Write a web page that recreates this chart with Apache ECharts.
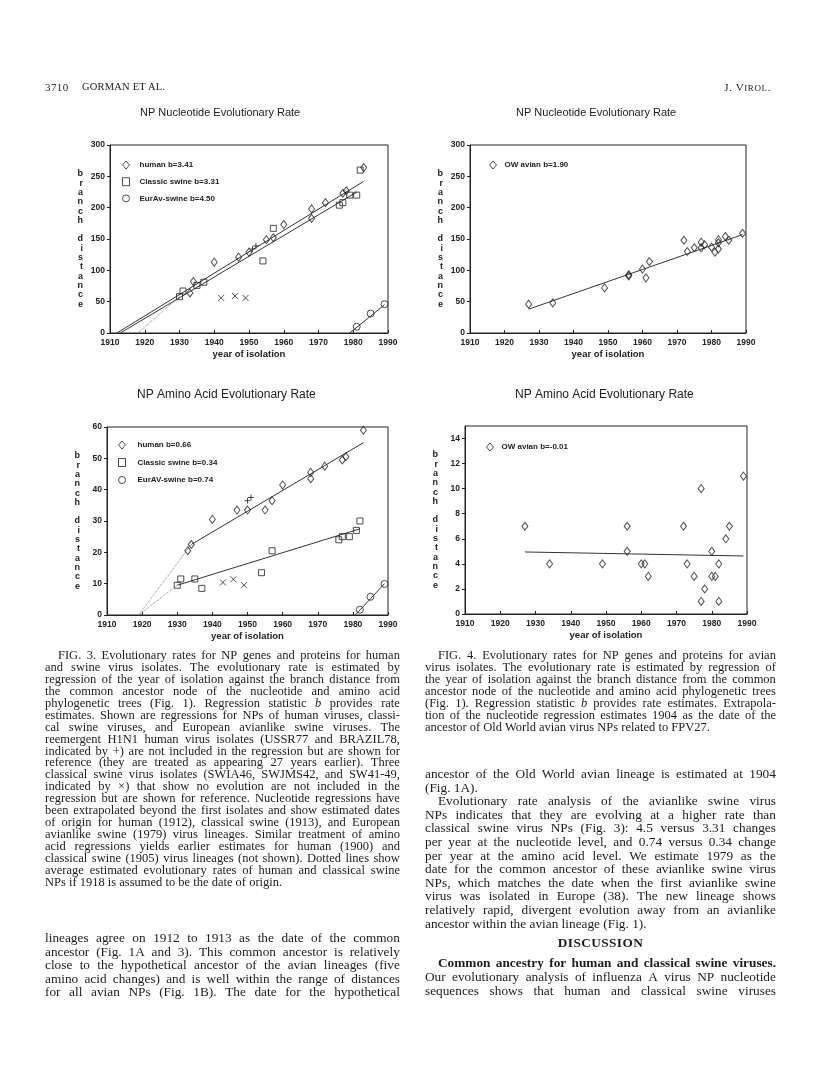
<!DOCTYPE html>
<html><head><meta charset="utf-8">
<script src="https://cdn.jsdelivr.net/npm/echarts@6/dist/echarts.min.js"></script>
<style>
body{margin:0;background:#fff;}
#page{position:relative;width:816px;height:1077px;overflow:hidden;background:#fff;}
#chart{position:absolute;left:0;top:0;width:816px;height:1077px;}
.blk{position:absolute;font-family:"Liberation Serif","Times New Roman",serif;color:#1c1c1c;}
.ln{white-space:nowrap;}
.jl{display:flex;justify-content:space-between;}
.ind{padding-left:13px;}
.cap{font-size:12.5px;}
.cap .ln{height:11.95px;line-height:11.95px;}
.bod{font-size:13.3px;}
.bod .ln{height:13.6px;line-height:13.6px;}
.bd{font-weight:bold;}
.ctr{text-align:center;}
</style></head>
<body><div id="page">
<div id="chart"></div>
<div class="blk" style="left:45px;top:81px;font-size:11px;letter-spacing:0.4px;">3710</div>
<div class="blk" style="left:82px;top:81px;font-size:10.5px;letter-spacing:0.2px;">GORMAN ET AL.</div>
<div class="blk" style="left:700px;width:71px;text-align:right;top:81px;font-size:11px;letter-spacing:0.6px;">J. V<span style="font-size:9px">IROL</span>.</div>
<div class="blk cap" id="fig3" style="left:45px;top:650px;width:355px;"></div>
<div class="blk cap" id="fig4" style="left:425px;top:650px;width:351px;"></div>
<div class="blk bod" id="bodyL" style="left:45px;top:931px;width:355px;"></div>
<div class="blk bod" id="bodyR" style="left:425px;top:767px;width:351px;"></div>
</div>
<script>
// ---------- data: NP nucleotide (Fig. 3, top left) ----------
const ntHuman = [[1933,64],[1934,82],[1940,113],[1947,121],[1950,129],[1955,149],[1957,152],[1960,173],[1968,183],[1968,198],[1972,208],[1977,223],[1978,227],[1983,264]];
const ntClassic = [[1930,58],[1931,67],[1935,76],[1937,81],[1954,115],[1957,167],[1976,204],[1977,208],[1979,220],[1981,220],[1982,260]];
const ntEurAv = [[1981,10],[1985,31],[1989,46]];
const ntReemergent = [[1951,134],[1952,139]];
const ntNoEvolution = [[1942,56],[1946,59],[1949,56]];
const ntHumanFit = [[1912,0],[1983,242]];
const ntClassicFit = [[1913,0],[1981,225]];
const ntEurAvFit = [[1979,0],[1989,45]];
const ntDotted = [[1918,0],[1930,58]];
// ---------- data: NP nucleotide (Fig. 4, top right) ----------
const ntAvian = [[1927,46],[1934,48],[1949,72],[1956,91],[1956,93],[1960,102],[1961,88],[1962,114],[1972,148],[1973,130],[1975,136],[1977,145],[1977,136],[1978,141],[1980,137],[1981,129],[1982,149],[1982,144],[1982,134],[1984,154],[1985,148],[1989,159]];
const ntAvianFit = [[1927,38],[1989,157]];
// ---------- data: NP amino acid (Fig. 3, bottom left) ----------
const aaHuman = [[1933,20.5],[1934,22.5],[1940,30.5],[1947,33.5],[1950,33.5],[1955,33.5],[1957,36.5],[1960,41.5],[1968,43.5],[1968,45.5],[1972,47.5],[1977,49.5],[1978,50.5],[1983,59]];
const aaClassic = [[1930,9.5],[1931,11.5],[1935,11.5],[1937,8.5],[1954,13.5],[1957,20.5],[1976,24],[1977,25],[1979,25],[1981,27],[1982,30]];
const aaEurAv = [[1982,1.7],[1985,5.8],[1989,9.9]];
const aaReemergent = [[1950,36.5],[1951,37.5]];
const aaNoEvolution = [[1943,10.4],[1946,11.4],[1949,9.5]];
const aaHumanFit = [[1934,22.5],[1983,55]];
const aaClassicFit = [[1930,9.5],[1982,27.5]];
const aaEurAvFit = [[1980.7,0],[1989,10]];
const aaHumanDotted = [[1919,0],[1934,22.5]];
const aaClassicDotted = [[1919,0],[1930,9.5]];
// ---------- data: NP amino acid (Fig. 4, bottom right) ----------
const aaAvian = [[1927,7],[1934,4],[1949,4],[1956,7],[1956,5],[1960,4],[1961,4],[1962,3],[1972,7],[1973,4],[1975,3],[1977,10],[1977,1],[1978,2],[1980,5],[1980,3],[1981,3],[1982,4],[1982,1],[1984,6],[1985,7],[1989,11]];
const aaAvianFit = [[1927,4.95],[1989,4.63]];

// ---------- texts ----------
const titles = ['NP Nucleotide Evolutionary Rate','NP Nucleotide Evolutionary Rate','NP Amino Acid Evolutionary Rate','NP Amino Acid Evolutionary Rate'];
const xName = 'year of isolation';
const yName = 'branch distance';
const fig3Lines = [
'>FIG. 3. Evolutionary rates for NP genes and proteins for human',
'and swine virus isolates. The evolutionary rate is estimated by',
'regression of the year of isolation against the branch distance from',
'the common ancestor node of the nucleotide and amino acid',
'phylogenetic trees (Fig. 1). Regression statistic *b* provides rate',
'estimates. Shown are regressions for NPs of human viruses, classi-',
'cal swine viruses, and European avianlike swine viruses. The',
'reemergent H1N1 human virus isolates (USSR77 and BRAZIL78,',
'indicated by +) are not included in the regression but are shown for',
'reference (they are treated as appearing 27 years earlier). Three',
'classical swine virus isolates (SWIA46, SWJMS42, and SW41-49,',
'indicated by ×) that show no evolution are not included in the',
'regression but are shown for reference. Nucleotide regressions have',
'been extrapolated beyond the first isolates and show estimated dates',
'of origin for human (1912), classical swine (1913), and European',
'avianlike swine (1979) virus lineages. Similar treatment of amino',
'acid regressions yields earlier estimates for human (1900) and',
'classical swine (1905) virus lineages (not shown). Dotted lines show',
'average estimated evolutionary rates of human and classical swine',
'|NPs if 1918 is assumed to be the date of origin.'
];
const fig4Lines = [
'>FIG. 4. Evolutionary rates for NP genes and proteins for avian',
'virus isolates. The evolutionary rate is estimated by regression of',
'the year of isolation against the branch distance from the common',
'ancestor node of the nucleotide and amino acid phylogenetic trees',
'(Fig. 1). Regression statistic *b* provides rate estimates. Extrapola-',
'tion of the nucleotide regression estimates 1904 as the date of the',
'|ancestor of Old World avian virus NPs related to FPV27.'
];
const bodyLeftLines = [
'lineages agree on 1912 to 1913 as the date of the common',
'ancestor (Fig. 1A and 3). This common ancestor is relatively',
'close to the hypothetical ancestor of the avian lineages (five',
'amino acid changes) and is well within the range of distances',
'for all avian NPs (Fig. 1B). The date for the hypothetical'
];
const bodyRightLines = [
'ancestor of the Old World avian lineage is estimated at 1904',
'|(Fig. 1A).',
'>Evolutionary rate analysis of the avianlike swine virus',
'NPs indicates that they are evolving at a higher rate than',
'classical swine virus NPs (Fig. 3): 4.5 versus 3.31 changes',
'per year at the nucleotide level, and 0.74 versus 0.34 change',
'per year at the amino acid level. We estimate 1979 as the',
'date for the common ancestor of these avianlike swine virus',
'NPs, which matches the date when the first avianlike swine',
'virus was isolated in Europe (38). The new lineage shows',
'relatively rapid, divergent evolution away from an avianlike',
'|ancestor within the avian lineage (Fig. 1).',
'~',
'^DISCUSSION',
'~',
'>#Common ancestry for human and classical swine viruses.',
'Our evolutionary analysis of influenza A virus NP nucleotide',
'sequences shows that human and classical swine viruses'
];

function esc(w){return w.replace(/&/g,'&amp;').replace(/</g,'&lt;').replace(/\*(\w+)\*/g,'<i>$1</i>');}
function renderBlock(id, lines){
  const el = document.getElementById(id);
  lines.forEach(raw => {
    let s = raw, last=false, ind=false, bold=false, ctr=false, blank=false;
    while (s.length && '>|#^~'.includes(s[0])) {
      const c = s[0]; s = s.slice(1);
      if (c==='>') ind=true; else if (c==='|') last=true; else if (c==='#') bold=true; else if (c==='^') ctr=true; else if (c==='~') blank=true;
    }
    const d = document.createElement('div');
    d.className = 'ln' + (ind?' ind':'') + (bold?' bd':'') + (ctr?' ctr bd':'');
    if (blank) { d.style.height = '6.3px'; el.appendChild(d); return; }
    if (ctr) d.style.letterSpacing = '0.4px';
    if (last || ctr) { d.innerHTML = esc(s); }
    else {
      d.className += ' jl';
      d.innerHTML = s.split(' ').map(w => '<span>'+esc(w)+'</span>').join('');
    }
    el.appendChild(d);
  });
}
renderBlock('fig3', fig3Lines);
renderBlock('fig4', fig4Lines);
renderBlock('bodyL', bodyLeftLines);
renderBlock('bodyR', bodyRightLines);

// ---------- chart ----------
const INK = '#222';
const SANS = '"Liberation Sans", Arial, Helvetica, sans-serif';
const PLUS = 'path://M5,0L5,10M0,5L10,5';
const CROSS = 'path://M0,0L10,10M10,0L0,10';
const hollow = {color:'rgba(255,255,255,0)', borderColor:INK, borderWidth:1};
const grids = [
  {left:110, top:145, width:278, height:188},
  {left:470, top:145, width:276, height:188},
  {left:107, top:427, width:281, height:188},
  {left:465, top:426, width:282, height:188}
];
const yMax = [300,300,60,15];
const yInt = [50,50,10,2];
const titlePos = [[140,107,11],[516,107,11],[137,389,12],[515,389,12]];
const lettersName = yName.split('').map(c => c===' ' ? '' : c).join('\n');

function xAx(i){return {gridIndex:i,type:'value',min:1910,max:1990,interval:10,
  axisLine:{show:true,lineStyle:{color:INK,width:1}},
  axisTick:{show:true,inside:true,length:3,lineStyle:{color:INK}},
  axisLabel:{color:INK,fontSize:8.5,fontWeight:'bold',fontFamily:SANS,margin:5,formatter:v=>String(v)},
  splitLine:{show:false},
  name:xName,nameLocation:'middle',nameGap:16,
  nameTextStyle:{color:INK,fontSize:9.5,fontWeight:'bold',fontFamily:SANS}};}
function yAx(i){return {gridIndex:i,type:'value',min:0,max:yMax[i],interval:yInt[i],
  axisLine:{show:true,lineStyle:{color:INK,width:1}},
  axisTick:{show:true,inside:false,length:3,lineStyle:{color:INK}},
  axisLabel:{color:INK,fontSize:8.5,fontWeight:'bold',fontFamily:SANS,margin:5,showMaxLabel:(i===3?false:true),formatter:v=>String(v)},
  splitLine:{show:false},
  name:lettersName,nameLocation:'middle',nameRotate:0,nameGap:27,
  nameTextStyle:{color:INK,fontSize:9,fontWeight:'bold',fontFamily:SANS,lineHeight:9.3}};}

function sc(name,i,data,symbol,size){return {name,type:'scatter',xAxisIndex:i,yAxisIndex:i,data,symbol,symbolSize:size,itemStyle:hollow,silent:true,z:3};}
function ln(i,data,dotted){return {type:'line',xAxisIndex:i,yAxisIndex:i,data,symbol:'none',silent:true,
  lineStyle:{color:dotted?'#777':'#333',width:dotted?0.9:1,type:dotted?'dotted':'solid'},z:2};}

const legendText = {color:INK,fontSize:8,fontWeight:'bold',fontFamily:SANS,lineHeight:10};
const legendItem = {color:'rgba(255,255,255,0)',borderColor:INK,borderWidth:1};
const option = {
  animation:false,
  backgroundColor:'transparent',
  title: titlePos.map((p,k)=>({text:titles[k],left:p[0],top:p[1],padding:0,
    textStyle:{color:INK,fontSize:p[2],fontWeight:'normal',fontFamily:SANS}})),
  grid: grids.map(g=>Object.assign({show:true,borderColor:INK,borderWidth:1,backgroundColor:'transparent'},g)),
  xAxis:[0,1,2,3].map(xAx),
  yAxis:[0,1,2,3].map(yAx),
  legend:[
    {data:['human b=3.41','Classic swine b=3.31','EurAv-swine b=4.50'],left:122,top:160,orient:'vertical',itemWidth:7,itemHeight:8,itemGap:6.7,padding:0,itemStyle:legendItem,textStyle:Object.assign({padding:[0,0,0,5]},legendText),selectedMode:false},
    {data:['OW avian b=1.90'],left:489,top:160,orient:'vertical',itemWidth:7,itemHeight:8,padding:0,itemStyle:legendItem,textStyle:Object.assign({padding:[0,0,0,3]},legendText),selectedMode:false},
    {data:['human b=0.66','Classic swine b=0.34','EurAV-swine b=0.74'],left:118,top:440,orient:'vertical',itemWidth:7,itemHeight:8,itemGap:7.5,padding:0,itemStyle:legendItem,textStyle:Object.assign({padding:[0,0,0,7]},legendText),selectedMode:false},
    {data:['OW avian b=-0.01'],left:486,top:442,orient:'vertical',itemWidth:7,itemHeight:8,padding:0,itemStyle:legendItem,textStyle:Object.assign({padding:[0,0,0,3]},legendText),selectedMode:false}
  ],
  series:[
    ln(0,ntHumanFit),ln(0,ntClassicFit),ln(0,ntEurAvFit),ln(0,ntDotted,true),
    sc('human b=3.41',0,ntHuman,'diamond',[6,8]),
    sc('Classic swine b=3.31',0,ntClassic,'rect',6),
    sc('EurAv-swine b=4.50',0,ntEurAv,'circle',7),
    sc('reemergent +',0,ntReemergent,PLUS,6),
    sc('no evolution ×',0,ntNoEvolution,CROSS,6),
    ln(1,ntAvianFit),
    sc('OW avian b=1.90',1,ntAvian,'diamond',[6,8]),
    ln(2,aaHumanFit),ln(2,aaClassicFit),ln(2,aaEurAvFit),ln(2,aaHumanDotted,true),ln(2,aaClassicDotted,true),
    sc('human b=0.66',2,aaHuman,'diamond',[6,8]),
    sc('Classic swine b=0.34',2,aaClassic,'rect',6),
    sc('EurAV-swine b=0.74',2,aaEurAv,'circle',7),
    sc('reemergent aa +',2,aaReemergent,PLUS,6),
    sc('no evolution aa ×',2,aaNoEvolution,CROSS,6),
    ln(3,aaAvianFit),
    sc('OW avian b=-0.01',3,aaAvian,'diamond',[6,8])
  ]
};
const chart = echarts.init(document.getElementById('chart'),null,{renderer:'canvas'});
chart.setOption(option);
</script>
</body></html>
